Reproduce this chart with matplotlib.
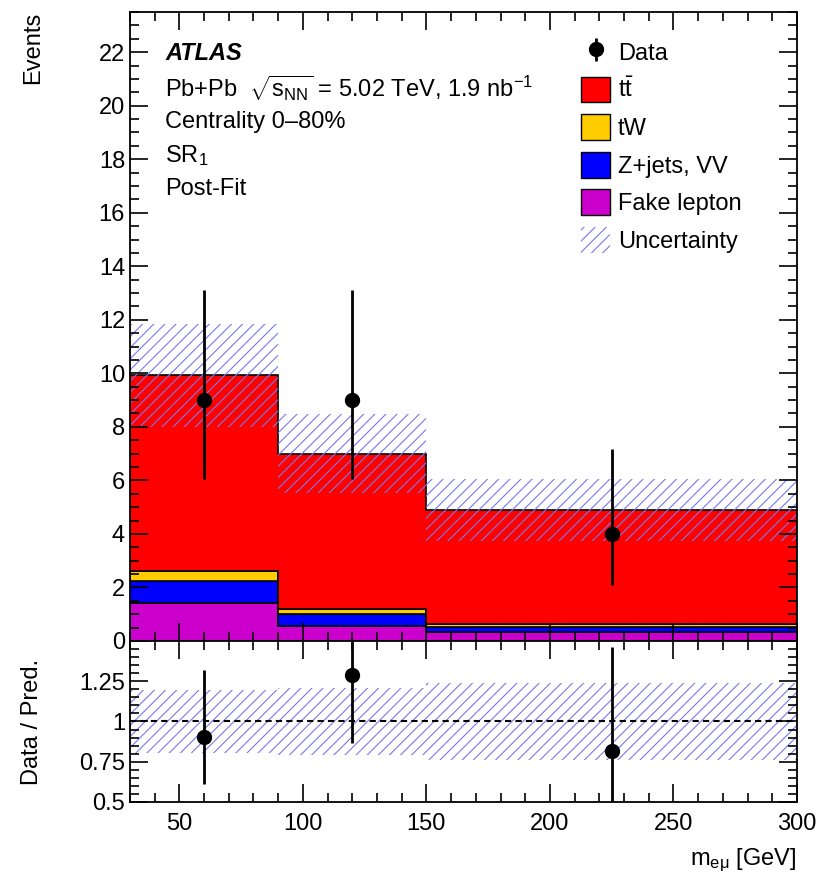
import matplotlib
matplotlib.use('Agg')
import matplotlib.pyplot as plt
import numpy as np
from matplotlib.patches import Patch
from matplotlib.ticker import MultipleLocator, FuncFormatter

plt.rcParams['font.family'] = ['Liberation Sans', 'DejaVu Sans']
plt.rcParams['mathtext.fontset'] = 'custom'
plt.rcParams['mathtext.rm'] = 'Liberation Sans'
plt.rcParams['mathtext.it'] = 'Liberation Sans:italic'
plt.rcParams['hatch.linewidth'] = 0.8

# bins in m_emu [GeV]
edges = np.array([30., 90., 150., 300.])
centers = np.array([60., 120., 225.])

# post-fit stack (bottom to top)
fake = np.array([1.43, 0.56, 0.33])
zjets = np.array([0.80, 0.44, 0.20])
tw = np.array([0.39, 0.21, 0.09])
ttbar = np.array([7.31, 5.79, 4.28])
unc = np.array([1.92, 1.47, 1.16])

# data with asymmetric errors
data = np.array([9., 9., 4.])
data_lo = np.array([2.94, 2.94, 1.91])
data_hi = np.array([4.11, 4.11, 3.16])

labels = ['Fake lepton', 'Z+jets, VV', 'tW', r'$\mathrm{t\bar{t}}$']
colors = ['#cc00cc', '#0000ff', '#ffcc00', '#ff0000']
hatch_col = '#7878f0'
hatch = '///'

fig = plt.figure(figsize=(8.21, 8.84), dpi=100)
ax = fig.add_axes([0.1583, 0.2749, 0.8125, 0.7115])
rx = fig.add_axes([0.1583, 0.0928, 0.8125, 0.1821], sharex=ax)

comps = [fake, zjets, tw, ttbar]
base = np.zeros(3)
for vals, c in zip(comps, colors):
    top = base + vals
    ax.stairs(top, edges, baseline=base, fill=True, facecolor=c, edgecolor='black', lw=1.2)
    base = top
total = base

ax.stairs(total + unc, edges, baseline=total - unc, fill=True, facecolor='none',
          edgecolor=hatch_col, hatch=hatch, lw=0)

data_eb = ax.errorbar(centers, data, yerr=[data_lo, data_hi], fmt='o', color='black',
                      ms=10, lw=2, capsize=0)

# ratio panel
ratio = data / total
rx.stairs(1 + unc / total, edges, baseline=1 - unc / total, fill=True, facecolor='none',
          edgecolor=hatch_col, hatch=hatch, lw=0)
rx.axhline(1, color='black', ls='--', lw=1.5, dashes=(3, 2))
rx.errorbar(centers, ratio, yerr=[data_lo / total, data_hi / total], fmt='o',
            color='black', ms=10, lw=2, capsize=0)

ax.set_xlim(30, 300)
ax.set_ylim(0, 23.5)
rx.set_ylim(0.5, 1.5)

fs = 17
for a in (ax, rx):
    a.tick_params(which='both', direction='in', top=True, right=True, labelsize=fs, width=1.2)
    a.tick_params(which='major', length=13)
    a.tick_params(which='minor', length=6.5)
    a.xaxis.set_major_locator(MultipleLocator(50))
    a.xaxis.set_minor_locator(MultipleLocator(10))
    for s in a.spines.values():
        s.set_linewidth(1.3)
ax.yaxis.set_major_locator(MultipleLocator(2))
ax.yaxis.set_minor_locator(MultipleLocator(0.5))
rx.yaxis.set_major_locator(MultipleLocator(0.25))
rx.yaxis.set_minor_locator(MultipleLocator(0.05))
rx.yaxis.set_major_formatter(FuncFormatter(lambda v, p: '' if v > 1.4 else '%g' % v))
ax.tick_params(labelbottom=False)
rx.tick_params(axis='x', pad=8)

ax.set_ylabel('Events', fontsize=fs, loc='top')
ax.yaxis.set_label_coords(-0.128, 1.0)
rx.set_ylabel('Data / Pred.', fontsize=fs)
rx.yaxis.set_label_coords(-0.13, 0.5)
rx.set_xlabel(r'$\mathrm{m_{e\mu}}$ [GeV]', fontsize=fs, loc='right', labelpad=8)

# text block
tx = 0.053
ax.text(tx, 0.934, 'ATLAS', transform=ax.transAxes, fontsize=fs, fontweight='bold',
        style='italic', va='center')
lines = [r'Pb+Pb  $\sqrt{\mathrm{s_{NN}}}$ = 5.02 TeV, 1.9 nb$^{\mathrm{-1}}$',
         'Centrality 0\u201380%', r'SR$_{\mathrm{1}}$', 'Post-Fit']
for i, t in enumerate(lines):
    ax.text(tx, 0.879 - i * 0.0535, t, transform=ax.transAxes, fontsize=fs, va='center')

handles = [data_eb]
for c in colors[::-1]:
    handles.append(Patch(facecolor=c, edgecolor='black', lw=1))
handles.append(Patch(facecolor='none', edgecolor=hatch_col, hatch=hatch, lw=0))
leg_labels = ['Data'] + labels[::-1] + ['Uncertainty']
ax.legend(handles, leg_labels, loc='upper left', bbox_to_anchor=(0.6625, 0.972),
          frameon=False, fontsize=fs, handlelength=1.2, handleheight=1.3,
          labelspacing=0.5, handletextpad=0.34, borderaxespad=0)

fig.savefig('out.png', dpi=100)
